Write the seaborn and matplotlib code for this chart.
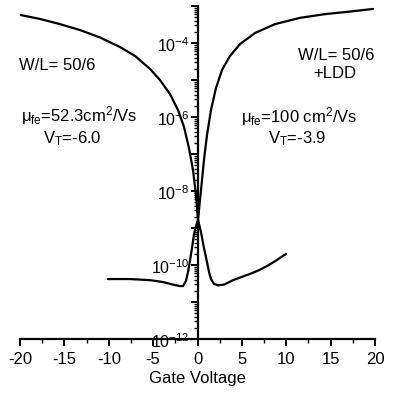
import numpy as np
import pandas as pd
import matplotlib
matplotlib.use("Agg")
import matplotlib.pyplot as plt
import matplotlib.ticker as mticker
import matplotlib.transforms as mtransforms
import seaborn as sns

# ---- data ----
# Device without LDD (left text)
vg_a = [-20.0, -17.75, -15.49, -13.24, -10.99, -8.73, -7.04, -5.35, -4.23, -3.10,
        -2.20, -1.52, -0.96, -0.51, -0.17, 0.06, 0.39, 0.73, 1.07, 1.30, 1.52,
        1.86, 2.31, 2.99, 4.0, 5.01, 5.92, 6.93, 7.83, 8.85, 9.97]
log_id_a = [-3.24, -3.35, -3.49, -3.65, -3.85, -4.11, -4.35, -4.70, -5.00, -5.38,
            -5.81, -6.27, -6.84, -7.43, -8.11, -8.78, -9.11, -9.54, -9.92, -10.19, -10.38,
            -10.51, -10.55, -10.53, -10.41, -10.32, -10.24, -10.14, -10.03, -9.88, -9.70]
# Device with LDD (right text)
vg_b = [-10.08, -7.61, -5.35, -3.89, -2.76, -1.97, -1.63, -1.30, -1.07, -0.85,
        -0.62, -0.39, -0.17, 0.06, 0.28, 0.51, 0.73, 1.07, 1.52, 2.08, 2.76, 3.66,
        4.79, 6.48, 8.73, 11.55, 14.37, 17.18, 19.77]
log_id_b = [-10.38, -10.38, -10.41, -10.46, -10.53, -10.57, -10.57, -10.43, -10.19, -9.89,
            -9.54, -9.16, -8.95, -8.78, -8.24, -7.70, -7.16, -6.49, -5.81, -5.22, -4.73, -4.35,
            -4.03, -3.73, -3.49, -3.32, -3.22, -3.15, -3.08]

x_ticks = [-20, -15, -10, -5, 0, 5, 10, 15, 20]
y_label_exps = [-12, -10, -8, -6, -4]
x_label = "Gate Voltage"

left_texts = ["W/L= 50/6", "μ$_{\\rm fe}$=52.3cm$^{2}$/Vs", "V$_{\\rm T}$=-6.0"]
right_texts = ["W/L= 50/6", "+LDD", "μ$_{\\rm fe}$=100 cm$^{2}$/Vs", "V$_{\\rm T}$=-3.9"]

# ---- style ----
sns.set_style("white")
plt.rcParams["font.family"] = ["Liberation Sans", "DejaVu Sans"]
plt.rcParams["mathtext.fontset"] = "custom"
plt.rcParams["mathtext.rm"] = "Liberation Sans"
plt.rcParams["mathtext.it"] = "Liberation Sans:italic"
plt.rcParams["mathtext.bf"] = "Liberation Sans:bold"
plt.rcParams["axes.unicode_minus"] = False

W, H = 398, 393
fig = plt.figure(figsize=(W / 100, H / 100), dpi=100)
ax = fig.add_axes([20 / W, (H - 339) / H, (375 - 20) / W, (339 - 6) / H])

df_a = pd.DataFrame({"vg": vg_a, "id": 10 ** np.array(log_id_a)})
df_b = pd.DataFrame({"vg": vg_b, "id": 10 ** np.array(log_id_b)})
sns.lineplot(data=df_a, x="vg", y="id", sort=False, estimator=None,
             color="black", lw=1.6, ax=ax)
sns.lineplot(data=df_b, x="vg", y="id", sort=False, estimator=None,
             color="black", lw=1.6, ax=ax)

ax.set_yscale("log")
ax.set_xlim(-20, 20)
ax.set_ylim(1e-12, 1e-3)

ax.spines["right"].set_visible(False)
ax.spines["top"].set_visible(False)
ax.spines["left"].set_position(("data", 0))
for s in ("left", "bottom"):
    ax.spines[s].set_linewidth(1.6)
    ax.spines[s].set_color("black")

ax.xaxis.set_major_locator(mticker.FixedLocator(x_ticks))
ax.xaxis.set_minor_locator(mticker.MultipleLocator(2.5))
ax.set_xticklabels([str(v) for v in x_ticks])

ax.yaxis.set_major_locator(mticker.LogLocator(base=10, numticks=20))
ax.yaxis.set_minor_locator(mticker.LogLocator(base=10, subs=np.arange(2, 10), numticks=20))

def yfmt(v, pos):
    e = int(round(np.log10(v)))
    return r"$10^{%d}$" % e if e in y_label_exps else ""

ax.yaxis.set_major_formatter(mticker.FuncFormatter(yfmt))
ax.yaxis.set_minor_formatter(mticker.NullFormatter())

ax.tick_params(axis="both", which="both", left=True, bottom=True, right=False, top=False)
ax.tick_params(axis="both", which="major", direction="out", length=5, width=1.4,
               color="black", labelsize=12, labelcolor="black")
ax.tick_params(axis="both", which="minor", direction="out", length=3, width=1.0,
               color="black")
ax.tick_params(axis="y", which="major", pad=1, labelsize=11.5)
ax.tick_params(axis="x", which="major", pad=4)
offset = mtransforms.ScaledTranslation(0, -1.5 / 100, fig.dpi_scale_trans)
for lab in ax.get_yticklabels():
    lab.set_transform(lab.get_transform() + offset)

ax.set_xlabel(x_label, fontsize=12, labelpad=3, color="black")
ax.set_ylabel("")
ax.grid(False)

def ftext(x, y, s):
    fig.text(x / W, 1 - y / H, s, ha="center", va="center", fontsize=12, color="black")

ftext(57, 65, left_texts[0])
ftext(79, 116, left_texts[1])
ftext(72, 139, left_texts[2])
ftext(336, 55, right_texts[0])
ftext(335, 74, right_texts[1])
ftext(299, 117, right_texts[2])
ftext(297, 139, right_texts[3])

fig.savefig("out.png", dpi=100)
